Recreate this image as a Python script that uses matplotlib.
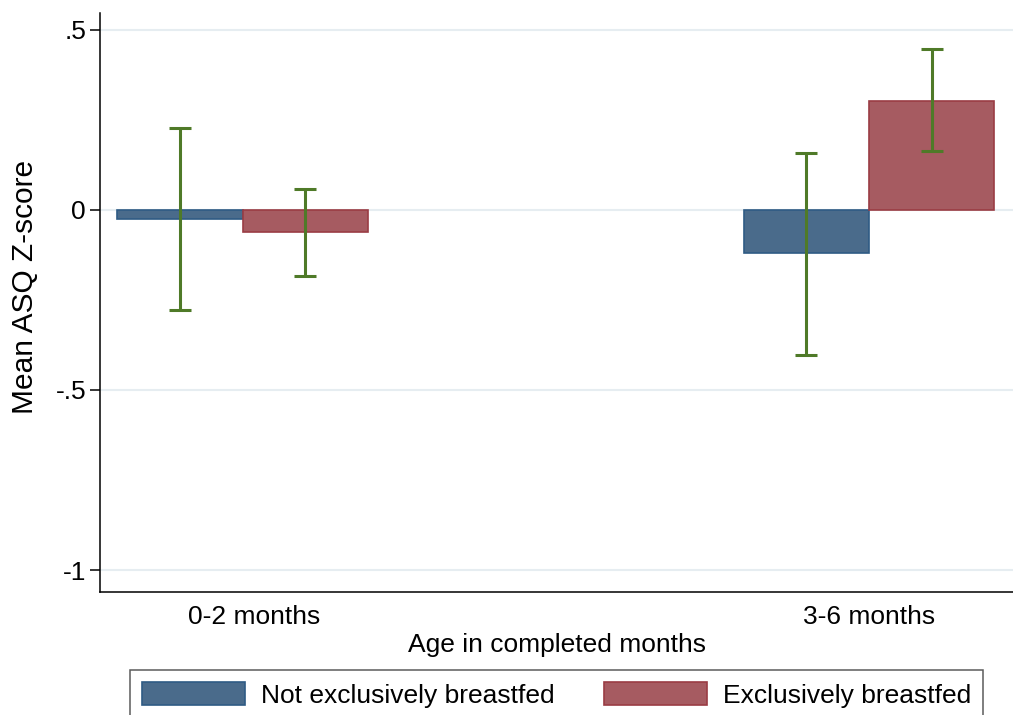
import matplotlib.pyplot as plt
import matplotlib.transforms as mtransforms
import numpy as np

plt.rcParams['font.family'] = ['Liberation Sans', 'DejaVu Sans']

# Daten
groups = ['0-2 months', '3-6 months']
series = ['Not exclusively breastfed', 'Exclusively breastfed']
means_not = [-0.025, -0.12]
means_excl = [-0.061, 0.303]
lo_not = [-0.278, -0.403]
hi_not = [0.228, 0.158]
lo_excl = [-0.183, 0.164]
hi_excl = [0.058, 0.446]

yticks = [0.5, 0, -0.5, -1]
yticklabels = ['.5', '0', '-.5', '-1']

blue_fill = '#4a6b8b'
blue_edge = '#2f5b84'
red_fill = '#a65b61'
red_edge = '#9a3c44'
ci_color = '#4f7a28'

fig = plt.figure(figsize=(10.13, 7.15), dpi=100)
ax = fig.add_axes([100 / 1013, 123 / 715, 913 / 1013, 579 / 715])

x = np.arange(len(groups))
w = 0.2

ax.bar(x - w / 2, means_not, w, color=blue_fill, edgecolor=blue_edge, linewidth=1.2,
       label=series[0], zorder=3)
ax.bar(x + w / 2, means_excl, w, color=red_fill, edgecolor=red_edge, linewidth=1.2,
       label=series[1], zorder=3)

# Konfidenzintervalle
for xs, m, lo, hi in [(x - w / 2, means_not, lo_not, hi_not),
                      (x + w / 2, means_excl, lo_excl, hi_excl)]:
    m = np.array(m)
    err = np.vstack([m - np.array(lo), np.array(hi) - m])
    ax.errorbar(xs, m, yerr=err, fmt='none', ecolor=ci_color, elinewidth=2.2,
                capsize=8, capthick=2.2, zorder=4)

ax.set_ylim(-1.061, 0.547)
ax.set_xlim(-0.2275, 1.23)

ax.set_yticks(yticks)
ax.set_yticklabels(yticklabels)
ax.set_xticks(x)
ax.set_xticklabels(groups)

ax.tick_params(axis='y', length=7, width=1.1, labelsize=19, pad=3)
ax.tick_params(axis='x', length=0, labelsize=19, pad=9)

# erstes Label sitzt im Original etwas rechts
first = ax.get_xticklabels()[0]
first.set_transform(first.get_transform() +
                    mtransforms.ScaledTranslation(0.12, 0, fig.dpi_scale_trans))

ax.grid(axis='y', color='#e6edf1', linewidth=1.5, zorder=0)
ax.set_axisbelow(True)

for s in ['top', 'right']:
    ax.spines[s].set_visible(False)
for s in ['left', 'bottom']:
    ax.spines[s].set_linewidth(1.1)

ax.set_ylabel('Mean ASQ Z-score', fontsize=21.5)
ax.yaxis.set_label_coords(-0.067, 0.527)
ax.set_xlabel('Age in completed months', fontsize=19, labelpad=3)

leg = fig.legend(loc='upper left', bbox_to_anchor=(130 / 1013, 1 - 670 / 715), ncol=2,
                 fontsize=19, frameon=True, fancybox=False, edgecolor='#333333',
                 handlelength=3.9, handleheight=1.0, handletextpad=0.62,
                 columnspacing=1.85, borderpad=0.45, borderaxespad=0)
leg.get_frame().set_linewidth(1.1)

fig.savefig('out.png', dpi=100)
